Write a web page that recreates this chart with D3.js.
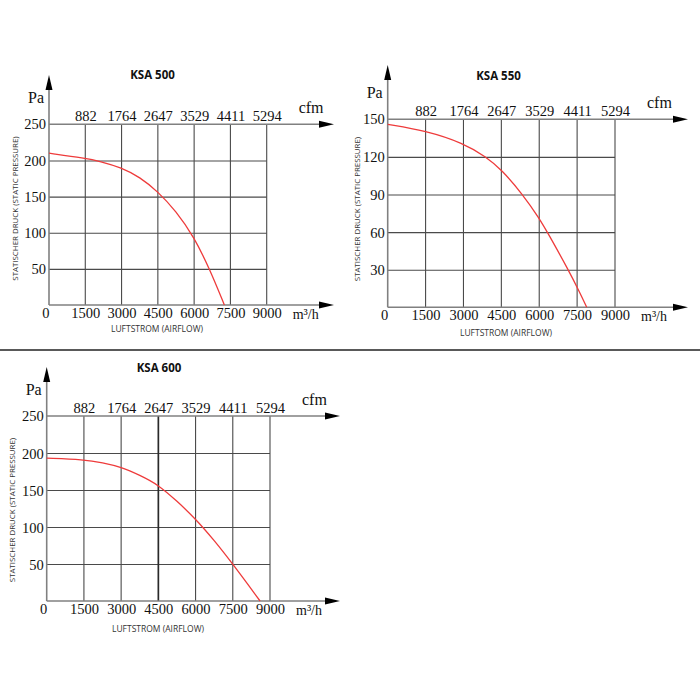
<!DOCTYPE html>
<html>
<head>
<meta charset="utf-8">
<script src="https://cdn.jsdelivr.net/npm/d3@7"></script>
<style>
  html, body { margin: 0; padding: 0; background: #fff; }
  svg { display: block; }
</style>
</head>
<body>
<svg id="chart" width="700" height="700"></svg>
<script>
// ---- data ----
const flowTicks = [0, 1500, 3000, 4500, 6000, 7500, 9000];
const cfmLabels = ["882", "1764", "2647", "3529", "4411", "5294"];
const titles = ["KSA 500", "KSA 550", "KSA 600"];

const ksa500Ticks = [0, 50, 100, 150, 200, 250];
const ksa550Ticks = [0, 30, 60, 90, 120, 150];
const ksa600Ticks = [0, 50, 100, 150, 200, 250];

const ksa500Flow = [0, 1500, 2100, 3000, 3750, 4500, 5250, 6000, 6650, 7250];
const ksa500Pressure = [210, 203, 199, 190, 177, 157, 130, 94, 49, 0];

const ksa550Flow = [0, 1500, 3000, 3900, 4500, 5350, 6000, 6350, 7150, 7600, 7880];
const ksa550Pressure = [146, 141, 131, 120, 110, 90, 71, 59, 30, 12, 0];

const ksa600Flow = [0, 1500, 2250, 3000, 3750, 4500, 5250, 6000, 6750, 7500, 8600];
const ksa600Pressure = [193, 191, 187, 181, 170, 157, 135, 111, 82, 50, 0];

const yLabelText = "STATISCHER DRUCK (STATIC PRESSURE)";
const xLabelText = "LUFTSTROM (AIRFLOW)";

// ---- layout per panel ----
const panels = [
  { title: titles[0], yTicks: ksa500Ticks, flow: ksa500Flow, pres: ksa500Pressure,
    x0: 49, x1: 266.7, yb: 305, yt: 124.3, arrowTop: 75, arrowRight: 334,
    titleX: 152.5, titleY: 78.5, xlabX: 157, xlabY: 332, ylabX: 15, ylabY: 208.5, boldGrid: null },
  { title: titles[1], yTicks: ksa550Ticks, flow: ksa550Flow, pres: ksa550Pressure,
    x0: 387.7, x1: 615, yb: 307.3, yt: 119.3, arrowTop: 65, arrowRight: 688,
    titleX: 498.5, titleY: 79.5, xlabX: 506, xlabY: 336, ylabX: 357, ylabY: 209, boldGrid: null },
  { title: titles[2], yTicks: ksa600Ticks, flow: ksa600Flow, pres: ksa600Pressure,
    x0: 46.7, x1: 270, yb: 601, yt: 416, arrowTop: 367, arrowRight: 340,
    titleX: 159, titleY: 372, xlabX: 158, xlabY: 632, ylabX: 12, ylabY: 510, boldGrid: 4500 }
];

const svg = d3.select("#chart");
const serif = "'Liberation Serif', 'Times New Roman', serif";
const sans = "'Open Sans', 'Noto Sans', sans-serif";

// separator line
svg.append("line").attr("x1", 0).attr("x2", 700).attr("y1", 350).attr("y2", 350)
  .attr("stroke", "#222").attr("stroke-width", 1.6);

panels.forEach(p => {
  const g = svg.append("g");
  const x = d3.scaleLinear().domain([0, 9000]).range([p.x0, p.x1]);
  const ymax = p.yTicks[p.yTicks.length - 1];
  const y = d3.scaleLinear().domain([0, ymax]).range([p.yb, p.yt]);

  // horizontal gridlines + y labels via axisLeft
  const yAxis = d3.axisLeft(y).tickValues(p.yTicks.slice(1, -1)).tickSize(-(p.x1 - p.x0)).tickPadding(3).tickFormat(d3.format("d"));
  const ya = g.append("g").attr("transform", `translate(${p.x0},0)`).call(yAxis);
  ya.select(".domain").remove();
  ya.selectAll(".tick line").attr("stroke", "#4a4a4a").attr("stroke-width", 1.1);
  ya.selectAll(".tick text").attr("font-family", serif).attr("font-size", 14.5).attr("fill", "#111").attr("dy", "0.35em");

  // top value label (max)
  g.append("text").attr("x", p.x0 - 3).attr("y", y(ymax) + 4.5).attr("text-anchor", "end")
    .attr("font-family", serif).attr("font-size", 14.5).attr("fill", "#111").text(ymax);

  // vertical gridlines
  g.selectAll(".vgrid").data(flowTicks.slice(1)).enter().append("line")
    .attr("x1", d => x(d)).attr("x2", d => x(d)).attr("y1", p.yt).attr("y2", p.yb)
    .attr("stroke", d => d === p.boldGrid ? "#2a2a2a" : "#4a4a4a")
    .attr("stroke-width", d => d === p.boldGrid ? 1.7 : 1.1);

  // bottom labels via axisBottom
  const xAxis = d3.axisBottom(x).tickValues(flowTicks.slice(1)).tickSize(0).tickPadding(0).tickFormat(d3.format("d"));
  const xa = g.append("g").attr("transform", `translate(0,${p.yb + 13})`).call(xAxis);
  xa.select(".domain").remove();
  xa.selectAll(".tick text").attr("font-family", serif).attr("font-size", 14.5).attr("fill", "#111").attr("dy", 0);
  g.append("text").attr("x", p.x0 + 0.5).attr("y", p.yb + 13).attr("text-anchor", "end")
    .attr("font-family", serif).attr("font-size", 14.5).attr("fill", "#111").text("0");

  // top cfm labels
  const cfmScale = d3.scalePoint().domain(cfmLabels).range([x(1500), x(9000)]);
  const ca = g.append("g").attr("transform", `translate(0,${p.yt - 3})`)
    .call(d3.axisTop(cfmScale).tickSize(0).tickPadding(0));
  ca.select(".domain").remove();
  ca.selectAll(".tick text").attr("font-family", serif).attr("font-size", 14.5).attr("fill", "#111").attr("dy", 0);

  // axes lines
  const axisColor = "#808080";
  g.append("line").attr("x1", p.x0).attr("x2", p.x0).attr("y1", p.arrowTop + 12).attr("y2", p.yb)
    .attr("stroke", axisColor).attr("stroke-width", 1.6);
  [p.yt, p.yb].forEach(yy => {
    g.append("line").attr("x1", p.x0).attr("x2", p.arrowRight - 12).attr("y1", yy).attr("y2", yy)
      .attr("stroke", axisColor).attr("stroke-width", 1.6);
    g.append("path")
      .attr("d", `M${p.arrowRight},${yy} L${p.arrowRight - 15},${yy - 3.5} L${p.arrowRight - 15},${yy + 3.5} Z`)
      .attr("fill", "#000");
  });
  g.append("path")
    .attr("d", `M${p.x0},${p.arrowTop} L${p.x0 - 3.5},${p.arrowTop + 15} L${p.x0 + 3.5},${p.arrowTop + 15} Z`)
    .attr("fill", "#000");

  // unit labels
  g.append("text").attr("x", p.x0 - 21).attr("y", p.yt - 21.5).attr("font-family", serif).attr("font-size", 16).attr("fill", "#111").text("Pa");
  g.append("text").attr("x", p.x1 + 32).attr("y", p.yt - 11).attr("font-family", serif).attr("font-size", 16).attr("fill", "#111").text("cfm");
  g.append("text").attr("x", p.x1 + 26).attr("y", p.yb + 13.5).attr("font-family", serif).attr("font-size", 14).attr("fill", "#111").text("m³/h");

  // title
  g.append("text").attr("x", p.titleX).attr("y", p.titleY).attr("text-anchor", "middle")
    .attr("font-family", sans).attr("font-weight", "bold").attr("font-size", 11.5).attr("fill", "#111").text(p.title);

  // axis titles
  g.append("text").attr("x", p.xlabX).attr("y", p.xlabY).attr("text-anchor", "middle")
    .attr("font-family", sans).attr("font-size", 8.5).attr("fill", "#333").text(xLabelText);
  g.append("text").attr("transform", `translate(${p.ylabX},${p.ylabY}) rotate(-90)`).attr("text-anchor", "middle")
    .attr("dy", "0.35em").attr("font-family", sans).attr("font-size", 7.9).attr("fill", "#333").text(yLabelText);

  // curve
  const pts = p.flow.map((f, i) => [f, p.pres[i]]);
  const line = d3.line().x(d => x(d[0])).y(d => y(d[1])).curve(d3.curveBasis);
  g.append("path").datum(pts).attr("d", line).attr("fill", "none")
    .attr("stroke", "#ee3b3b").attr("stroke-width", 1.3);
});
</script>
</body>
</html>
